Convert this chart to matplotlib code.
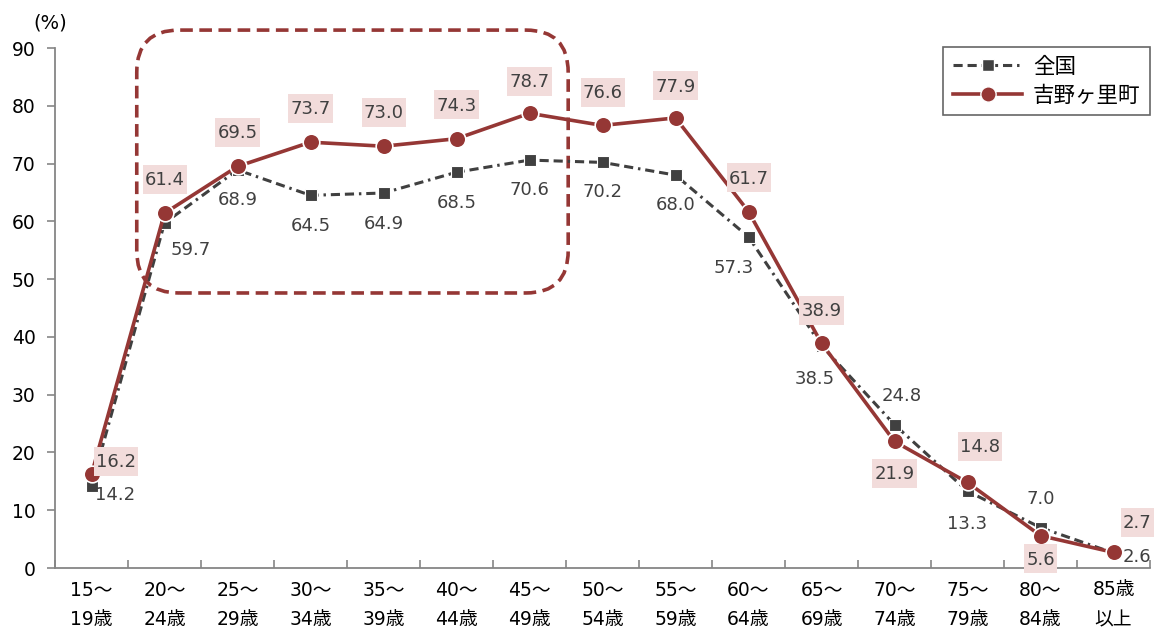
import matplotlib
matplotlib.use("Agg")
import matplotlib.pyplot as plt
from matplotlib.patches import FancyBboxPatch, Rectangle
from matplotlib.lines import Line2D
from matplotlib.transforms import IdentityTransform

plt.rcParams['font.family'] = ['DejaVu Sans', 'Noto Sans CJK JP']

categories = ["15～\n19歳", "20～\n24歳", "25～\n29歳", "30～\n34歳", "35～\n39歳",
              "40～\n44歳", "45～\n49歳", "50～\n54歳", "55～\n59歳", "60～\n64歳",
              "65～\n69歳", "70～\n74歳", "75～\n79歳", "80～\n84歳", "85歳\n以上"]
national = [14.2, 59.7, 68.9, 64.5, 64.9, 68.5, 70.6, 70.2, 68.0, 57.3, 38.5, 24.8, 13.3, 7.0, 2.6]
yoshino = [16.2, 61.4, 69.5, 73.7, 73.0, 74.3, 78.7, 76.6, 77.9, 61.7, 38.9, 21.9, 14.8, 5.6, 2.7]
series_names = ["全国", "吉野ヶ里町"]
yticks = list(range(0, 91, 10))

RED = "#953735"
GRAY = "#404040"
PINK = "#f2dcdb"
AXC = "#868686"

# label offsets in pixels (dx, dy)
nat_off = [(24, -9), (26, -27), (0, -30), (0, -31), (0, -31), (0, -31), (0, -30), (0, -30),
           (0, -30), (-15, -31), (-7, -33), (7, 29), (0, -33), (0, 29), (23, -4)]
yos_off = [(24, 12), (0, 33), (0, 33), (0, 33), (0, 33), (0, 33), (0, 31), (0, 32),
           (0, 31), (0, 33), (0, 32), (0, -33), (12, 35), (0, -24), (24, 29)]

fig = plt.figure(figsize=(11.61, 6.42), dpi=100)
ax = fig.add_axes([55/1161, 1-568/642, 1095/1161, 520/642])
x = list(range(len(categories)))

ax.plot(x, national, color=GRAY, lw=2.2, linestyle=(0, (3, 1.6, 3, 1.6, 0.8, 1.6)),
        marker='s', markersize=9, markerfacecolor=GRAY, markeredgecolor='white',
        markeredgewidth=0.8, zorder=3)
ax.plot(x, yoshino, color=RED, lw=2.6, marker='o', markersize=12,
        markerfacecolor=RED, markeredgecolor='white', markeredgewidth=1.2, zorder=4)

for i, v in enumerate(national):
    ax.annotate(f"{v:.1f}", (i, v), xytext=nat_off[i], textcoords='offset pixels',
                ha='center', va='center', fontsize=13, color=GRAY, zorder=5)
yos_texts = []
for i, v in enumerate(yoshino):
    t = ax.annotate(f"{v:.1f}", (i, v), xytext=yos_off[i], textcoords='offset pixels',
                    ha='center', va='center', fontsize=13, color=GRAY, zorder=7)
    yos_texts.append(t)

ax.set_xlim(-0.5, len(categories) - 0.5)
ax.set_ylim(0, 90)
ax.set_yticks(yticks)
ax.set_yticklabels([str(t) for t in yticks], fontsize=13.5, color='black')
ax.set_xticks([i - 0.5 for i in range(len(categories) + 1)], minor=False)
ax.set_xticklabels([])
ax.set_xticks(x, minor=True)
ax.set_xticklabels(categories, minor=True, fontsize=13.5, linespacing=1.7)
ax.tick_params(axis='x', which='major', direction='in', length=6, color=AXC, width=1.2)
ax.tick_params(axis='x', which='minor', length=0, pad=9)
ax.tick_params(axis='y', direction='out', length=6, color=AXC, width=1.2, pad=8)
for s in ['top', 'right']:
    ax.spines[s].set_visible(False)
for s in ['left', 'bottom']:
    ax.spines[s].set_color(AXC)
    ax.spines[s].set_linewidth(1.3)

# rounded dashed highlight box
px_per_x = 1095 / 15
px_per_y = 520 / 90
asp = px_per_x / px_per_y
box = FancyBboxPatch((0.62, 47.6), 6.53 - 0.62, 93.1 - 47.6,
                     boxstyle="round,pad=0,rounding_size=0.58",
                     mutation_aspect=asp, transform=ax.transData,
                     fill=False, ec=RED, lw=2.6, linestyle=(0, (3.5, 1.8)),
                     clip_on=False, zorder=2)
ax.add_patch(box)

fig.text(50/1161, 1-23/642, "(%)", fontsize=14, ha='center', va='center')

handles = [Line2D([], [], color=GRAY, lw=2.2, linestyle=(0, (3, 1.6, 3, 1.6, 0.8, 1.6)),
                  marker='s', markersize=8, markerfacecolor=GRAY, markeredgecolor='white'),
           Line2D([], [], color=RED, lw=2.6, marker='o', markersize=11,
                  markerfacecolor=RED, markeredgecolor='white')]
leg = ax.legend(handles, series_names, loc='upper right',
                bbox_to_anchor=(1150/1161, 1-47/642), bbox_transform=fig.transFigure,
                borderaxespad=0, fontsize=15.5, frameon=True, fancybox=False, edgecolor=GRAY,
                handlelength=3.2, borderpad=0.45, labelspacing=0.4, handletextpad=0.5)
leg.get_frame().set_linewidth(1.2)
leg.set_zorder(10)

# pink label backgrounds (fit text width, taller than text)
fig.canvas.draw()
renderer = fig.canvas.get_renderer()
for t in yos_texts:
    bb = t.get_window_extent(renderer)
    cx, cy = (bb.x0 + bb.x1) / 2, (bb.y0 + bb.y1) / 2 + 1
    w, h = bb.width + 4, 29
    rect = Rectangle((cx - w / 2, cy - h / 2), w, h, transform=IdentityTransform(),
                     fc=PINK, ec='none', zorder=6, clip_on=False)
    ax.add_artist(rect)

fig.savefig("out.png", dpi=100)
